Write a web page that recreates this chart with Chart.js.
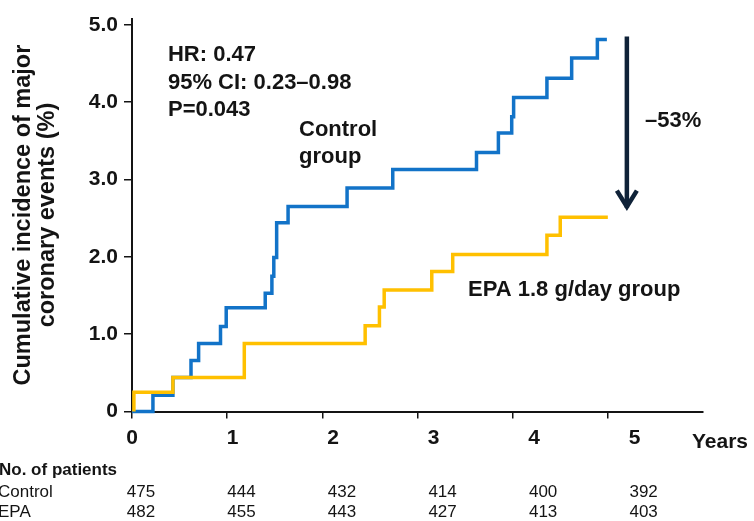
<!DOCTYPE html>
<html>
<head>
<meta charset="utf-8">
<title>Cumulative incidence of major coronary events</title>
<script src="https://cdn.jsdelivr.net/npm/chart.js"></script>
<style>
  html, body { margin: 0; padding: 0; background: #fff; }
  #km { display: block; }
</style>
</head>
<body>
<canvas id="km" width="754" height="521"></canvas>
<script>
const FONT = '"Liberation Sans", Arial, Helvetica, sans-serif';
const INK = '#141414';

// Kaplan-Meier steps (years, cumulative %)
const controlYears = [0, 0.22, 0.43, 0.62, 0.70, 0.93, 0.99, 1.40, 1.47, 1.49, 1.52, 1.64, 2.26, 2.74, 3.62, 3.85, 3.99, 4.01, 4.36, 4.62, 4.89, 4.99];
const controlPct   = [0, 0.21, 0.44, 0.66, 0.88, 1.10, 1.34, 1.53, 1.75, 1.99, 2.44, 2.65, 2.89, 3.13, 3.35, 3.60, 3.81, 4.06, 4.31, 4.57, 4.81, 4.81];
const epaYears = [0.02, 0.02, 0.43, 1.18, 2.45, 2.60, 2.65, 3.15, 3.37, 4.36, 4.50, 5.00];
const epaPct   = [0, 0.25, 0.44, 0.88, 1.11, 1.35, 1.57, 1.81, 2.03, 2.28, 2.51, 2.51];

const yearTicks = [0, 1, 2, 3, 4, 5];
const pctTicks = [0, 1, 2, 3, 4, 5];
const rowNames = ['Control', 'EPA'];
const atRiskControl = [475, 444, 432, 414, 400, 392];
const atRiskEPA = [482, 455, 443, 427, 413, 403];

function toPoints(xs, ys) {
  return xs.map((v, i) => ({ x: v, y: ys[i] }));
}
function fixTicks(list) {
  return (scale) => { scale.ticks = list.map(v => ({ value: v })); };
}

const notes = {
  id: 'notes',
  afterDatasetsDraw(chart) {
    const ctx = chart.ctx;
    const x = chart.scales.x, y = chart.scales.y, xl = chart.scales.xl;
    const px = v => x.getPixelForValue(v);
    const py = v => y.getPixelForValue(v);
    ctx.save();

    // arrow between the two curves at the end of follow-up
    const ax = px(5.2), top = py(4.85), tip = py(2.61);
    ctx.strokeStyle = '#0f2238';
    ctx.lineWidth = 4.5;
    ctx.beginPath();
    ctx.moveTo(ax, top);
    ctx.lineTo(ax, tip - 2);
    ctx.stroke();
    ctx.beginPath();
    ctx.moveTo(ax - 10, tip - 19);
    ctx.lineTo(ax, tip - 3);
    ctx.lineTo(ax + 10, tip - 19);
    ctx.stroke();

    ctx.fillStyle = INK;
    ctx.textBaseline = 'alphabetic';
    ctx.textAlign = 'left';
    ctx.font = 'bold 22px ' + FONT;
    ctx.fillText('HR: 0.47', px(0.378), py(4.53));
    ctx.fillText('95% CI: 0.23\u20130.98', px(0.378), py(4.173));
    ctx.fillText('P=0.043', px(0.378), py(3.815));
    ctx.fillText('Control', px(1.755), py(3.559));
    ctx.fillText('group', px(1.755), py(3.214));
    ctx.fillText('EPA 1.8 g/day group', px(3.531), py(1.489));
    ctx.fillText('\u201353%', px(5.39), py(3.674));
    ctx.font = 'bold 21px ' + FONT;
    ctx.fillText('Years', px(5.884), py(-0.466));

    // numbers at risk
    ctx.font = 'bold 17px ' + FONT;
    ctx.fillText('No. of patients', -1, 475);
    ctx.font = '17px ' + FONT;
    ctx.fillText(rowNames[0], -2, 497);
    ctx.fillText(rowNames[1], -2, 517);
    ctx.textAlign = 'center';
    yearTicks.forEach((t, i) => {
      const cx = xl.getPixelForValue(t) + 9;
      ctx.fillText(String(atRiskControl[i]), cx, 497);
      ctx.fillText(String(atRiskEPA[i]), cx, 517);
    });
    ctx.restore();
  }
};

new Chart(document.getElementById('km'), {
  type: 'line',
  data: {
    datasets: [
      {
        label: 'Control group',
        data: toPoints(controlYears, controlPct),
        borderColor: '#1273c8',
        borderWidth: 3.5,
        stepped: 'before',
        pointRadius: 0,
        fill: false,
        clip: false,
        order: 1
      },
      {
        label: 'EPA 1.8 g/day group',
        data: toPoints(epaYears, epaPct),
        borderColor: '#ffc000',
        borderWidth: 3.5,
        stepped: 'before',
        pointRadius: 0,
        fill: false,
        clip: false,
        order: 0
      }
    ]
  },
  options: {
    responsive: false,
    animation: false,
    layout: { padding: { top: 14, right: 51, bottom: 0, left: 0 } },
    plugins: { legend: { display: false }, tooltip: { enabled: false } },
    scales: {
      x: {
        type: 'linear',
        position: 'bottom',
        min: 0,
        max: 6,
        afterBuildTicks: fixTicks(yearTicks),
        afterFit: s => { s.height = 10; },
        ticks: { display: false },
        grid: { drawOnChartArea: false, drawTicks: true, tickLength: 7, color: INK, lineWidth: 1.5 },
        border: { display: true, color: INK, width: 2 }
      },
      xl: {
        type: 'linear',
        position: 'bottom',
        min: 0,
        max: 5.68,
        afterBuildTicks: fixTicks(yearTicks),
        afterFit: s => { s.height = 99.5; },
        ticks: { font: { family: FONT, size: 21, weight: 'bold' }, color: INK, padding: 4, maxRotation: 0, autoSkip: false },
        grid: { display: false, drawTicks: false },
        border: { display: false }
      },
      y: {
        type: 'linear',
        min: 0,
        max: 5.08,
        afterBuildTicks: fixTicks(pctTicks),
        afterFit: s => { s.width = 132; },
        ticks: {
          callback: v => (v === 0 ? '0' : v.toFixed(1)),
          font: { family: FONT, size: 21, weight: 'bold' },
          color: INK,
          padding: 6
        },
        grid: { drawOnChartArea: false, drawTicks: true, tickLength: 8, color: INK, lineWidth: 1.5 },
        border: { display: true, color: INK, width: 2 },
        title: {
          display: true,
          text: ['Cumulative incidence of major', 'coronary events (%)'],
          font: { family: FONT, size: 23.5, weight: 'bold', lineHeight: 1.0 },
          color: INK,
          padding: { top: 12, bottom: 0 }
        }
      }
    }
  },
  plugins: [notes]
});
</script>
</body>
</html>
